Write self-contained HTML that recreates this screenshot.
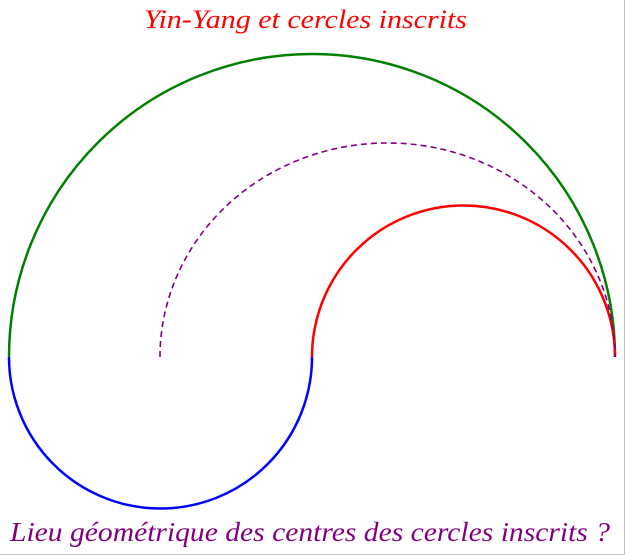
<!DOCTYPE html>
<html><head><meta charset="utf-8"><style>
html,body{margin:0;padding:0;background:#fff;width:625px;height:555px;overflow:hidden}
</style></head><body>
<svg width="625" height="555" viewBox="0 0 625 555" xmlns="http://www.w3.org/2000/svg">
<rect width="625" height="555" fill="#fff"/>
<line x1="624.5" y1="0" x2="624.5" y2="555" stroke="#c0c0c0" stroke-width="1"/>
<line x1="0" y1="554.5" x2="625" y2="554.5" stroke="#c0c0c0" stroke-width="1"/>
<text x="144" y="28" textLength="323" lengthAdjust="spacingAndGlyphs" fill="#ff0000" font-family="Liberation Serif, serif" font-style="italic" font-size="26">Yin-Yang et cercles inscrits</text>
<path d="M9,357 A303,303 0 0 1 615,357" fill="none" stroke="#008000" stroke-width="2.5"/>
<path d="M312,357 A151.5,151.5 0 0 1 615,357" fill="none" stroke="#ff0000" stroke-width="2.5"/>
<path d="M9,357 A151.5,151.5 0 0 0 312,357" fill="none" stroke="#0000ff" stroke-width="2.5"/>
<path d="M160,357 A227.5,214 0 0 1 615,357" fill="none" stroke="#800080" stroke-width="1.6" stroke-dasharray="6,4"/>
<text x="10" y="541" textLength="600" lengthAdjust="spacingAndGlyphs" fill="#800080" font-family="Liberation Serif, serif" font-style="italic" font-size="27">Lieu géométrique des centres des cercles inscrits ?</text>
</svg>
</body></html>
